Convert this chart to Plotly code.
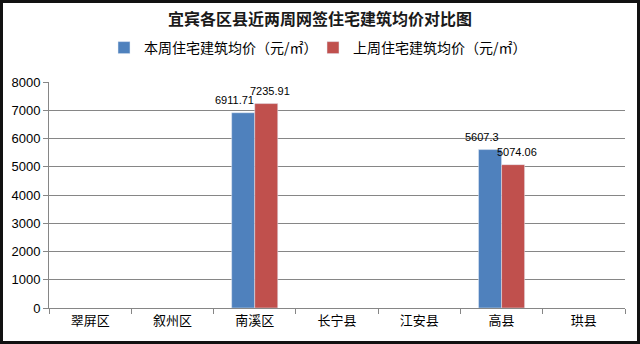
import plotly.graph_objects as go

categories = ["翠屏区", "叙州区", "南溪区", "长宁县", "江安县", "高县", "珙县"]
this_week = [None, None, 6911.71, None, None, 5607.3, None]
last_week = [None, None, 7235.91, None, None, 5074.06, None]
series_names = ["本周住宅建筑均价（元/㎡）", "上周住宅建筑均价（元/㎡）"]
y_ticks = [0, 1000, 2000, 3000, 4000, 5000, 6000, 7000, 8000]

CJK = "Noto Sans CJK SC"
LAT = "Liberation Sans, " + CJK

def fmt(v):
    return "%g" % v

fig = go.Figure()
fig.add_trace(go.Bar(x=categories, y=this_week, name=series_names[0],
                     marker_color="#4F81BD"))
fig.add_trace(go.Bar(x=categories, y=last_week, name=series_names[1],
                     marker_color="#C0504D"))

# value labels (Excel style, sitting a little above each bar)
label_shift = {0: -20, 1: 15}
for si, series in enumerate([this_week, last_week]):
    for cat, v in zip(categories, series):
        if v is None:
            continue
        fig.add_annotation(x=cat, y=v, xref="x", yref="y", text=fmt(v),
                           showarrow=False, xanchor="center", yanchor="bottom",
                           xshift=label_shift[si], yshift=6, borderpad=0,
                           font=dict(family=LAT, size=11, color="#000"))

L, R, T, B = 49, 15, 82, 36
W, H = 640, 344
pw, ph = W - L - R, H - T - B

fig.update_layout(
    width=W, height=H,
    margin=dict(l=L, r=R, t=T, b=B),
    paper_bgcolor="white", plot_bgcolor="white",
    barmode="group", bargap=0.44, bargroupgap=0,
    title=dict(text="<b>宜宾各区县近两周网签住宅建筑均价对比图</b>",
               x=0.5, xref="container", xanchor="center", y=1 - 19 / H, yanchor="middle",
               font=dict(family=CJK, size=16, color="#1a1a1a")),
    legend=dict(orientation="h", x=(104 - L) / pw, xanchor="left",
                y=1 + (T - 48) / ph, yanchor="middle",
                font=dict(family=CJK, size=14, color="#000"),
                itemwidth=30,
                entrywidth=164, entrywidthmode="pixels",
                itemclick=False, bgcolor="rgba(0,0,0,0)"),
    showlegend=True,
)
fig.update_xaxes(type="category", showline=True, linecolor="#868686", linewidth=1,
                 ticks="outside", tickson="boundaries", ticklen=5, tickcolor="#868686",
                 tickfont=dict(family=CJK, size=13, color="#000"), showgrid=False)
fig.update_yaxes(range=[0, 8000], tickvals=y_ticks, showline=True, linecolor="#868686",
                 linewidth=1, ticks="outside", ticklen=5, tickcolor="#868686",
                 gridcolor="#868686", gridwidth=1, zeroline=False,
                 tickfont=dict(family=LAT, size=13, color="#000"))

# outer dark frame around the whole image
fig.add_shape(type="rect", xref="paper", yref="paper",
              x0=(1.5 - L) / pw, x1=(W - 1.5 - L) / pw,
              y0=-(B - 1.5) / ph, y1=1 + (T - 1.5) / ph,
              line=dict(color="#111", width=3), layer="above")

fig.write_html("out.html")
